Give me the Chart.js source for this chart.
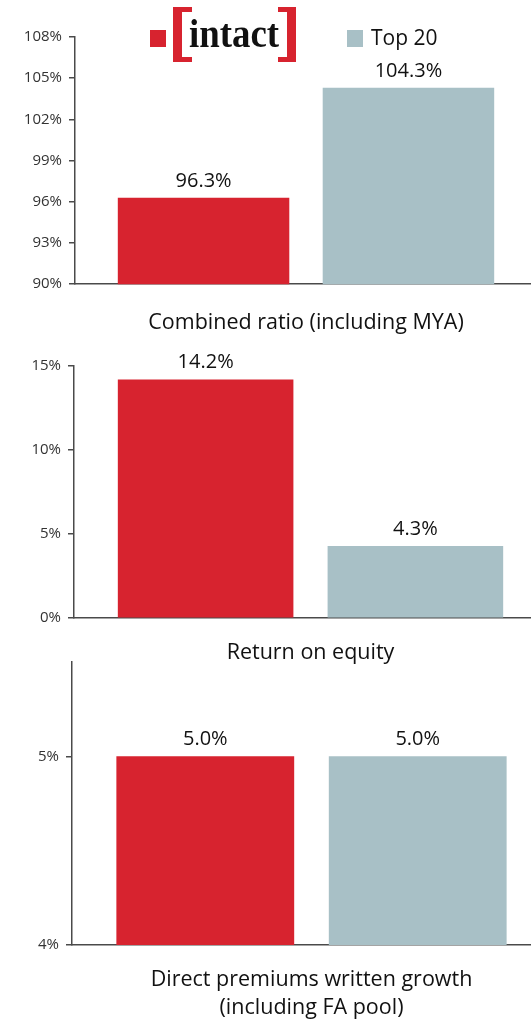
<!DOCTYPE html>
<html>
<head>
<meta charset="utf-8">
<script src="https://cdn.jsdelivr.net/npm/chart.js@4.4.1/dist/chart.umd.min.js"></script>
<style>
  html, body { margin: 0; padding: 0; background: #fff; width: 531px; height: 1019px; overflow: hidden; }
  .panel { position: absolute; left: 0; }
</style>
</head>
<body>
<div class="panel" style="top:0;width:537px;height:336px"><canvas id="ratioChart"></canvas></div>
<div class="panel" style="top:340px;width:547px;height:326px"><canvas id="roeChart"></canvas></div>
<div class="panel" style="top:645px;width:551px;height:377px"><canvas id="growthChart"></canvas></div>
<script>
// Data
const seriesNames = ['intact', 'Top 20'];
const seriesColors = ['#D7232F', '#A8C0C6'];

const combinedRatio = [96.3, 104.3];
const returnOnEquity = [14.2, 4.3];
const premiumsGrowth = [5.0, 5.0];

const combinedRatioTicks = [90, 93, 96, 99, 102, 105, 108];
const roeTicks = [0, 5, 10, 15];
const growthTicks = [4, 5];

const axisColor = '#4a4a4a';
Chart.defaults.font.family = '"Open Sans", sans-serif';
Chart.defaults.color = '#111';

// value labels above the bars
const valueLabels = {
  id: 'valueLabels',
  afterDatasetsDraw(chart) {
    const ctx = chart.ctx;
    ctx.save();
    ctx.font = '20px "Open Sans", sans-serif';
    ctx.fillStyle = '#111';
    ctx.textAlign = 'center';
    ctx.textBaseline = 'alphabetic';
    chart.data.datasets.forEach((ds, i) => {
      chart.getDatasetMeta(i).data.forEach((el, j) => {
        ctx.fillText(ds.data[j].toFixed(1) + '%', el.x, el.y - 11);
      });
    });
    ctx.restore();
  }
};

// legend with the intact logo (top panel only)
const logoLegend = {
  id: 'logoLegend',
  afterDraw(chart) {
    const ctx = chart.ctx;
    ctx.save();
    ctx.fillStyle = seriesColors[0];
    ctx.fillRect(150, 30, 16, 17);
    // brackets
    ctx.fillRect(173, 7, 9, 55);
    ctx.fillRect(173, 7, 19, 5);
    ctx.fillRect(173, 57, 19, 5);
    ctx.fillRect(287, 7, 9, 55);
    ctx.fillRect(278, 7, 18, 5);
    ctx.fillRect(278, 57, 18, 5);
    // logo word, squeezed to the logo width
    ctx.fillStyle = '#111';
    ctx.font = 'bold 40px "Liberation Serif", serif';
    ctx.textAlign = 'left';
    ctx.textBaseline = 'alphabetic';
    const w = ctx.measureText(seriesNames[0]).width;
    ctx.translate(189, 47);
    ctx.scale(90 / w, 1);
    ctx.fillText(seriesNames[0], 0, 0);
    ctx.setTransform(1, 0, 0, 1, 0, 0);
    ctx.fillStyle = seriesColors[1];
    ctx.fillRect(347, 30, 16, 17);
    ctx.fillStyle = '#111';
    ctx.font = '21px "Open Sans", sans-serif';
    ctx.textAlign = 'left';
    ctx.textBaseline = 'middle';
    ctx.fillText(seriesNames[1], 371, 39);
    ctx.restore();
  }
};

function makeChart(id, values, ticks, min, max, axisWidth, title, padTop, titlePadTop, lineHeight, extraPlugins) {
  return new Chart(document.getElementById(id), {
    type: 'bar',
    data: {
      labels: [''],
      datasets: seriesNames.map((name, i) => ({
        label: name,
        data: [values[i]],
        backgroundColor: seriesColors[i],
        categoryPercentage: 0.887,
        barPercentage: 0.837
      }))
    },
    options: {
      responsive: true,
      maintainAspectRatio: false,
      animation: false,
      layout: { padding: { top: padTop, right: 0, bottom: 0, left: 0 } },
      plugins: {
        legend: { display: false },
        tooltip: { enabled: false },
        title: {
          display: true,
          position: 'bottom',
          fullSize: false,
          text: title,
          color: '#111',
          font: { size: 21.5, weight: 'normal', lineHeight: lineHeight },
          padding: { top: titlePadTop, bottom: 0 }
        }
      },
      scales: {
        x: {
          ticks: { display: false },
          grid: { display: false, drawTicks: false },
          border: { display: true, color: axisColor, width: 1.5 }
        },
        y: {
          min: min,
          max: max,
          afterBuildTicks: axis => { axis.ticks = ticks.map(v => ({ value: v })); },
          afterFit: axis => { axis.width = axisWidth; },
          ticks: {
            padding: 7,
            font: { size: 15 },
            color: '#333',
            callback: v => v + '%'
          },
          grid: { drawOnChartArea: false, drawTicks: true, tickLength: 6, color: axisColor, lineWidth: 1.5 },
          border: { display: true, color: axisColor, width: 1.5 }
        }
      }
    },
    plugins: [valueLabels].concat(extraPlugins || [])
  });
}

makeChart('ratioChart', combinedRatio, combinedRatioTicks, 90, 108, 75,
  'Combined ratio (including MYA)', 37, 26, 1.2, [logoLegend]);
makeChart('roeChart', returnOnEquity, roeTicks, 0, 15, 74,
  'Return on equity', 26, 22, 1.2);
makeChart('growthChart', premiumsGrowth, growthTicks, 4, 5.5, 72,
  ['Direct premiums written growth', '(including FA pool)'], 17, 21, 1.3);
</script>
</body>
</html>
